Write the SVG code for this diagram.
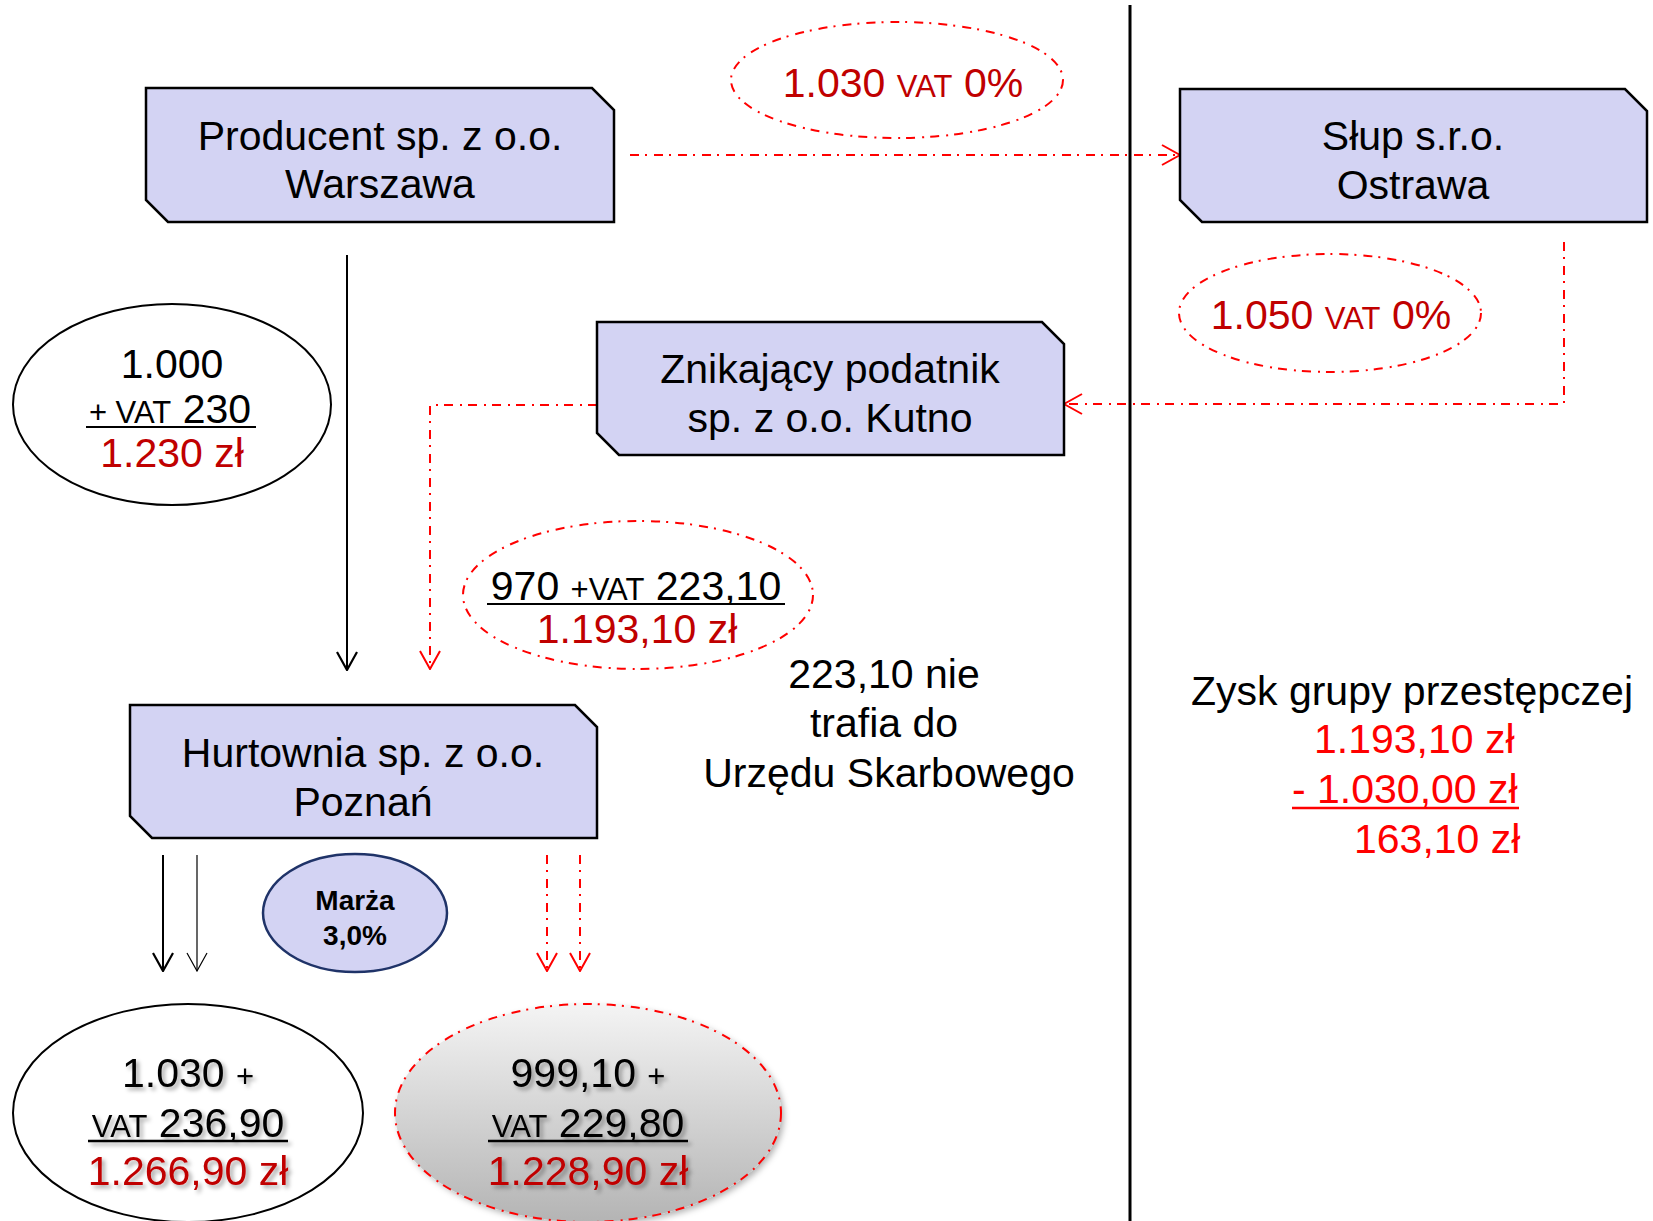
<svg xmlns="http://www.w3.org/2000/svg" width="1653" height="1221" viewBox="0 0 1653 1221">
  <style>
    text { font-family: "Liberation Sans", Arial, sans-serif; text-anchor: middle; font-size: 41px; }
    .t40 { fill: #000; }
    .dred { fill: #C00000; }
    .red { fill: #FF0000; }
    .sm { font-size: 31px; }
    .box { fill: #D3D3F3; stroke: #000; stroke-width: 2.5; }
    .solid { fill: none; stroke: #000; stroke-width: 2; }
    .dashdot { fill: none; stroke: #FF0000; stroke-width: 2; stroke-dasharray: 9 6 2 7; }
    .oval { fill: #fff; stroke: #000; stroke-width: 2; }
  </style>
  <defs>
    <marker id="arrowBlack" markerUnits="userSpaceOnUse" viewBox="0 0 20 22" markerWidth="20" markerHeight="22" refX="19" refY="11" orient="auto">
      <path d="M1,1 L19,11 L1,21" fill="none" stroke="#000" stroke-width="2.2"/>
    </marker>
    <marker id="arrowBlackThin" markerUnits="userSpaceOnUse" viewBox="0 0 20 22" markerWidth="20" markerHeight="22" refX="19" refY="11" orient="auto">
      <path d="M1,1 L19,11 L1,21" fill="none" stroke="#000" stroke-width="1.2"/>
    </marker>
    <marker id="arrowRed" markerUnits="userSpaceOnUse" viewBox="0 0 20 22" markerWidth="20" markerHeight="22" refX="19" refY="11" orient="auto">
      <path d="M1,1 L19,11 L1,21" fill="none" stroke="#FF0000" stroke-width="2"/>
    </marker>
    <linearGradient id="greyFill" x1="0" y1="0" x2="0" y2="1">
      <stop offset="0" stop-color="#F4F4F4"/>
      <stop offset="1" stop-color="#B4B4B4"/>
    </linearGradient>
    <filter id="textShadow" x="-10%" y="-20%" width="130%" height="160%">
      <feDropShadow dx="3" dy="3" stdDeviation="2" flood-color="#000" flood-opacity="0.35"/>
    </filter>
    <filter id="shapeShadow" x="-10%" y="-10%" width="130%" height="130%">
      <feDropShadow dx="3" dy="3" stdDeviation="3" flood-color="#000" flood-opacity="0.3"/>
    </filter>
  </defs>

  <!-- country border -->
  <line x1="1130" y1="5" x2="1130" y2="1221" stroke="#000" stroke-width="3"/>

  <!-- connectors -->
  <g id="connectors">
    <path class="dashdot" d="M630,155 H1180" marker-end="url(#arrowRed)"/>
    <path class="dashdot" d="M1564,242 V404 H1064" marker-end="url(#arrowRed)"/>
    <path class="dashdot" d="M597,405 H430 V669" marker-end="url(#arrowRed)"/>
    <path class="solid" d="M347,255 V670" marker-end="url(#arrowBlack)"/>
    <path class="solid" d="M163,855 V971" marker-end="url(#arrowBlack)"/>
    <path fill="none" stroke="#000" stroke-width="1.2" d="M197,855 V971" marker-end="url(#arrowBlackThin)"/>
    <path class="dashdot" d="M547,855 V971" marker-end="url(#arrowRed)"/>
    <path class="dashdot" d="M580,855 V971" marker-end="url(#arrowRed)"/>
  </g>

  <!-- companies -->
  <g id="producent">
    <path class="box" d="M146,88 H592 L614,110 V222 H168 L146,200 Z"/>
    <text class="t40" x="380" y="150">Producent sp. z o.o.</text>
    <text class="t40" x="380" y="198">Warszawa</text>
  </g>

  <g id="slup">
    <path class="box" d="M1180,89 H1625 L1647,111 V222 H1202 L1180,200 Z"/>
    <text class="t40" x="1413" y="150">Słup s.r.o.</text>
    <text class="t40" x="1413" y="199">Ostrawa</text>
  </g>

  <g id="znikajacy">
    <path class="box" d="M597,322 H1042 L1064,344 V455 H619 L597,433 Z"/>
    <text class="t40" x="830" y="383">Znikający podatnik</text>
    <text class="t40" x="830" y="432">sp. z o.o. Kutno</text>
  </g>

  <g id="hurtownia">
    <path class="box" d="M130,705 H575 L597,727 V838 H152 L130,816 Z"/>
    <text class="t40" x="363" y="767">Hurtownia sp. z o.o.</text>
    <text class="t40" x="363" y="816">Poznań</text>
  </g>

  <!-- amounts -->
  <g id="kwota-eksport">
    <ellipse class="dashdot" cx="897" cy="80" rx="166" ry="58"/>
    <text class="dred" x="903" y="97">1.030 <tspan class="sm">VAT</tspan> 0%</text>
  </g>

  <g id="kwota-import">
    <ellipse class="dashdot" cx="1330" cy="313" rx="151" ry="59"/>
    <text class="dred" x="1331" y="329">1.050 <tspan class="sm">VAT</tspan> 0%</text>
  </g>

  <g id="kwota-producent">
    <ellipse class="oval" cx="172" cy="404.5" rx="159" ry="100.5"/>
    <text class="t40" x="172" y="378">1.000</text>
    <text class="t40" x="170" y="423"><tspan class="sm">+ VAT</tspan> 230</text>
    <line x1="86" y1="427" x2="256" y2="427" stroke="#000" stroke-width="2"/>
    <text class="dred" x="172" y="467">1.230 zł</text>
  </g>

  <g id="kwota-znikajacy">
    <ellipse class="dashdot" cx="638" cy="595" rx="175" ry="74"/>
    <text class="t40" x="636" y="600">970 <tspan class="sm">+VAT</tspan> 223,10</text>
    <line x1="487" y1="604" x2="785" y2="604" stroke="#000" stroke-width="2"/>
    <text class="dred" x="637" y="643">1.193,10 zł</text>
  </g>

  <g id="uwaga">
    <text class="t40" x="884" y="688">223,10 nie</text>
    <text class="t40" x="884" y="737">trafia do</text>
    <text class="t40" x="889" y="787">Urzędu Skarbowego</text>
  </g>

  <g id="zysk">
    <text class="t40" x="1412" y="705">Zysk grupy przestępczej</text>
    <text class="red" x="1314" y="753" style="text-anchor:start">1.193,10 zł</text>
    <text class="red" x="1292" y="803" style="text-anchor:start">- 1.030,00 zł</text>
    <line x1="1292" y1="808" x2="1519" y2="808" stroke="#FF0000" stroke-width="2.5"/>
    <text class="red" x="1354" y="853" style="text-anchor:start">163,10 zł</text>
  </g>

  <g id="marza">
    <ellipse cx="355" cy="913" rx="92" ry="59" fill="#D3D3F3" stroke="#1F3368" stroke-width="2.5"/>
    <text x="355" y="910" font-weight="bold" fill="#000" style="font-size:28px">Marża</text>
    <text x="355" y="945" font-weight="bold" fill="#000" style="font-size:28px">3,0%</text>
  </g>

  <g id="cena-legalna">
    <ellipse class="oval" cx="188" cy="1113" rx="175" ry="109"/>
    <g filter="url(#textShadow)">
      <text class="t40" x="188" y="1087">1.030 <tspan class="sm">+</tspan></text>
      <text class="t40" x="188" y="1137"><tspan class="sm">VAT</tspan> 236,90</text>
      <line x1="88" y1="1141" x2="288" y2="1141" stroke="#000" stroke-width="2.5"/>
      <text class="dred" x="188" y="1185">1.266,90 zł</text>
    </g>
  </g>

  <g id="cena-oszustwa">
    <ellipse cx="588" cy="1113" rx="193" ry="109" fill="url(#greyFill)" filter="url(#shapeShadow)"/>
    <ellipse class="dashdot" cx="588" cy="1113" rx="193" ry="109"/>
    <g filter="url(#textShadow)">
      <text class="t40" x="588" y="1087">999,10 <tspan class="sm">+</tspan></text>
      <text class="t40" x="588" y="1137"><tspan class="sm">VAT</tspan> 229,80</text>
      <line x1="488" y1="1141" x2="688" y2="1141" stroke="#000" stroke-width="2.5"/>
      <text class="dred" x="588" y="1185">1.228,90 zł</text>
    </g>
  </g>
</svg>
